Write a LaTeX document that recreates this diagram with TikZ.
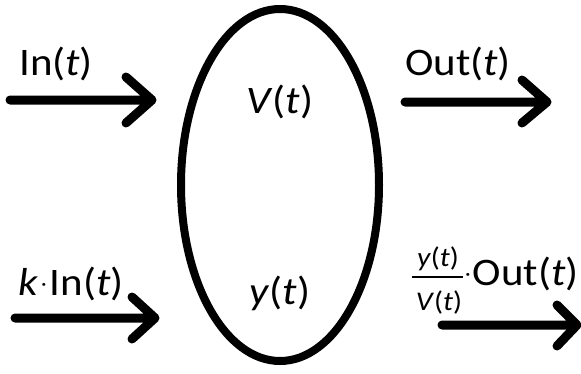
\documentclass[tikz,border=0pt]{standalone}
\usepackage{fontspec}
\setmainfont{Carlito}[FakeStretch=1.1]
\usetikzlibrary{shapes.geometric}
\newcommand{\smalldot}{{\fontsize{20}{20}\selectfont\raisebox{5pt}{·}}}
\begin{document}
\begin{tikzpicture}[x=1pt,y=-1pt,
  lbl/.style={font=\fontsize{39}{42}\selectfont, inner sep=0pt, anchor=base west},
  mid/.style={lbl, anchor=base},
  small/.style={font=\fontsize{27}{30}\selectfont, inner sep=0pt, anchor=base},
  flow/.style={line width=9pt, line cap=round, line join=round},
  tank/.style={draw, ellipse, line width=8pt, inner sep=0pt, minimum width=198pt, minimum height=352pt}]
\useasboundingbox (0,0) rectangle (581,373);
% container
\node[tank] (box) at (280,185) {};
\node[mid] (V) at (280,113) {\textit{V}(\textit{t})};
\node[mid] (y) at (280,304) {\textit{y}(\textit{t})};
% labels
\node[lbl] (inlbl) at (19,75) {In(\textit{t})};
\node[lbl] (outlbl) at (405,75) {Out(\textit{t})};
\node[lbl] (kinlbl) at (18,295) {\textit{k}\kern3pt\smalldot\kern3pt In(\textit{t})};
\node[small] (num) at (438,266) {\textit{y}(\textit{t})};
\node[small] (den) at (439,310) {\textit{V}(\textit{t})};
\coordinate (barL) at (412,277);
\coordinate (barR) at (463,277);
\draw[line width=2pt] (barL) -- (barR);
\node[lbl] (out2lbl) at (465,285) {\smalldot\kern2pt Out(\textit{t})};
% arrow coordinates
\coordinate (a1) at (10,100);  \coordinate (a2) at (152,100);
\coordinate (b1) at (405,102); \coordinate (b2) at (547,102);
\coordinate (c1) at (15,318);  \coordinate (c2) at (155,318);
\coordinate (d1) at (442,325); \coordinate (d2) at (577,325);
\draw[flow] (a1) -- (a2) ++(-26,-23) -- (a2) -- ++(-26,23);
\draw[flow] (b1) -- (b2) ++(-25,-22) -- (b2) -- ++(-25,21);
\draw[flow] (c1) -- (c2) ++(-23,-21) -- (c2) -- ++(-23,21);
\draw[flow] (d1) -- (d2) ++(-20,-20) -- (d2) -- ++(-20,21);
\end{tikzpicture}
\end{document}
